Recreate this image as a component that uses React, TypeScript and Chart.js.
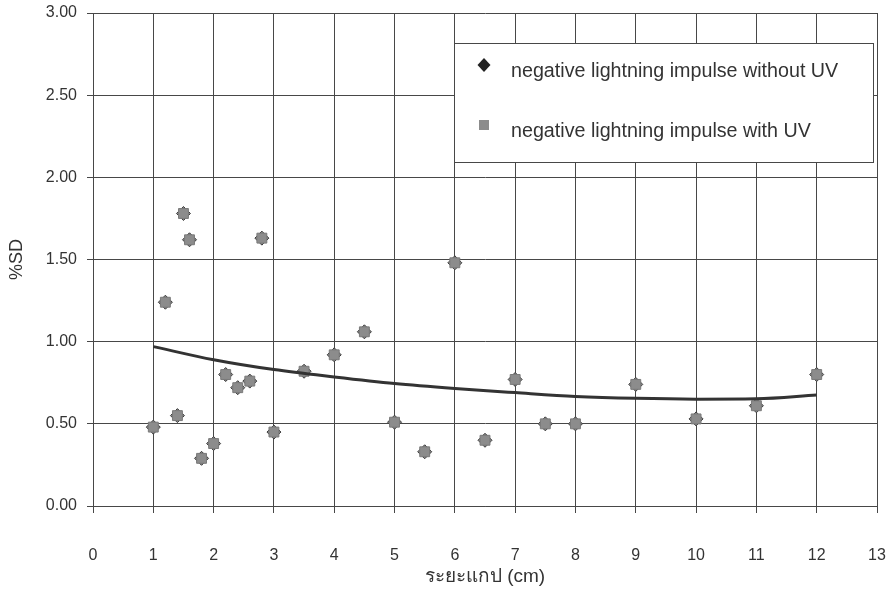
import React, { useEffect, useRef } from "react";
import { Chart, registerables } from "chart.js";

Chart.register(...registerables);

const seriesNames = [
  "negative lightning impulse without UV",
  "negative lightning impulse with UV",
];
const gapCm = [1, 1.2, 1.4, 1.5, 1.6, 1.8, 2, 2.2, 2.4, 2.6, 2.8, 3, 3.5, 4, 4.5, 5, 5.5, 6, 6.5, 7, 7.5, 8, 9, 10, 11, 12];
const sdWithoutUV = [0.48, 1.24, 0.55, 1.78, 1.62, 0.29, 0.38, 0.8, 0.72, 0.76, 1.63, 0.45, 0.82, 0.92, 1.06, 0.51, 0.33, 1.48, 0.4, 0.77, 0.5, 0.5, 0.74, 0.53, 0.61, 0.8];
const sdWithUV = [0.48, 1.24, 0.55, 1.78, 1.62, 0.29, 0.38, 0.8, 0.72, 0.76, 1.63, 0.45, 0.82, 0.92, 1.06, 0.51, 0.33, 1.48, 0.4, 0.77, 0.5, 0.5, 0.74, 0.53, 0.61, 0.8];
const trendX = [1, 2, 3, 4, 5, 6, 7, 8, 9, 10, 11, 12];
const trendY = [0.97, 0.89, 0.83, 0.785, 0.745, 0.715, 0.69, 0.667, 0.655, 0.65, 0.652, 0.675];
const xTitle = "ระยะแกป (cm)";
const yTitle = "%SD";

const FONT = '"Liberation Sans", Arial, sans-serif';
const TEXT = "#333";
const GRID = "#474747";

const boxLegend = {
  id: "boxLegend",
  afterDraw(chart: any) {
    const ctx = chart.ctx as CanvasRenderingContext2D;
    ctx.save();
    const bx = 454.5, by = 43.5, bw = 419, bh = 119;
    ctx.fillStyle = "#fff";
    ctx.fillRect(bx, by, bw, bh);
    ctx.strokeStyle = GRID;
    ctx.lineWidth = 1;
    ctx.strokeRect(bx, by, bw, bh);
    // diamond
    ctx.fillStyle = "#222";
    ctx.beginPath();
    ctx.moveTo(484, 58);
    ctx.lineTo(490.5, 65);
    ctx.lineTo(484, 72);
    ctx.lineTo(477.5, 65);
    ctx.closePath();
    ctx.fill();
    // square
    ctx.fillStyle = "#8c8c8c";
    ctx.fillRect(479, 120, 10, 10);
    ctx.fillStyle = TEXT;
    ctx.font = "19.7px " + FONT;
    ctx.textBaseline = "alphabetic";
    ctx.textAlign = "left";
    ctx.fillText(seriesNames[0], 511, 77);
    ctx.fillText(seriesNames[1], 511, 137);
    ctx.restore();
  },
};

export default function App() {
  const ref = useRef<HTMLCanvasElement>(null);
  useEffect(() => {
    const canvas = ref.current!;
    const pts = (ys: number[]) => gapCm.map((x, i) => ({ x, y: ys[i] }));
    const chart = new Chart(canvas, {
      type: "scatter",
      data: {
        datasets: [
          {
            label: "trend",
            type: "line",
            data: trendX.map((x, i) => ({ x, y: trendY[i] })),
            borderColor: "#333",
            borderWidth: 3,
            pointRadius: 0,
            tension: 0.4,
            cubicInterpolationMode: "monotone",
            fill: false,
            order: 0,
          } as any,
          {
            label: seriesNames[1],
            data: pts(sdWithUV),
            pointStyle: "rect",
            pointRadius: 7,
            backgroundColor: "#8c8c8c",
            borderColor: "#7a7a7a",
            borderWidth: 1,
            order: 1,
          },
          {
            label: seriesNames[0],
            data: pts(sdWithoutUV),
            pointStyle: "rectRot",
            pointRadius: 7,
            backgroundColor: "#858585",
            borderColor: "#3a3a3a",
            borderWidth: 1,
            order: 2,
          },
        ],
      },
      options: {
        responsive: false,
        animation: false,
        layout: { padding: { top: 13, right: 13, left: 0, bottom: 0 } },
        plugins: { legend: { display: false }, tooltip: { enabled: false } },
        scales: {
          x: {
            type: "linear",
            min: 0,
            max: 13,
            ticks: { stepSize: 1, color: TEXT, font: { family: FONT, size: 16 }, padding: 33, maxRotation: 0 },
            grid: { color: GRID, lineWidth: 1, tickLength: 7 },
            border: { color: GRID, width: 1 },
            title: { display: true, text: xTitle, color: TEXT, font: { family: FONT, size: 19 }, padding: { top: 0, bottom: 4.5 } },
            afterFit: (s: any) => {
              s.height = 87;
              s.paddingLeft = 0;
              s.paddingRight = 0;
            },
          },
          y: {
            min: 0,
            max: 3,
            ticks: { stepSize: 0.5, color: TEXT, font: { family: FONT, size: 16 }, padding: 10, callback: (v: any) => Number(v).toFixed(2) },
            grid: { color: GRID, lineWidth: 1, tickLength: 6 },
            border: { color: GRID, width: 1 },
            title: { display: true, text: yTitle, color: TEXT, font: { family: FONT, size: 18 }, padding: { top: 6, bottom: 0 } },
            afterFit: (s: any) => {
              s.width = 93;
              s.paddingTop = 0;
              s.paddingBottom = 0;
            },
          },
        },
      },
      plugins: [boxLegend],
    });
    return () => chart.destroy();
  }, []);
  return (
    <div style={{ position: "fixed", left: 0, top: 0, width: 890, height: 593, background: "#fff" }}>
      <canvas ref={ref} width={890} height={593} />
    </div>
  );
}
